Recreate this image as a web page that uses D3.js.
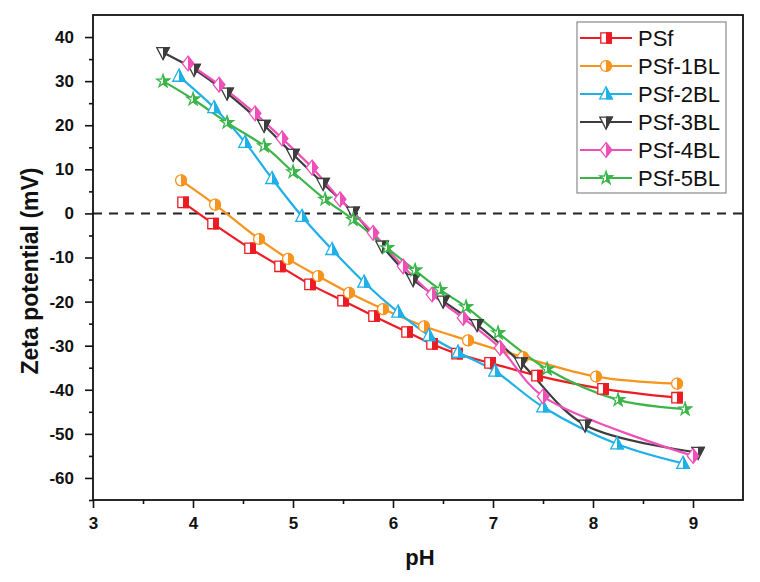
<!DOCTYPE html>
<html><head><meta charset="utf-8">
<script src="https://cdn.jsdelivr.net/npm/d3@7"></script>
<style>body{margin:0;background:#fff}svg{display:block;font-family:"Liberation Sans",Arial,sans-serif}</style>
</head><body><svg id="c" width="760" height="582"></svg>
<script>
const seriesNames = ["PSf","PSf-1BL","PSf-2BL","PSf-3BL","PSf-4BL","PSf-5BL"];
const seriesColors = ["#ec1c24","#f7941d","#1fb0e8","#3d3d3d","#f04fb9","#3bb54a"];
const seriesMarkers = ["square","circle","triangleUp","triangleDown","diamond","star"];
const psfPH = [3.9,4.2,4.57,4.87,5.17,5.5,5.81,6.14,6.39,6.64,6.97,7.44,8.1,8.84];
const psfZ  = [2.5,-2.3,-7.9,-12.0,-16.1,-19.8,-23.3,-26.9,-29.6,-31.8,-33.9,-36.8,-39.8,-41.8];
const bl1PH = [3.88,4.22,4.66,4.95,5.25,5.56,5.9,6.31,6.75,7.3,8.03,8.84];
const bl1Z  = [7.5,2.0,-5.8,-10.3,-14.2,-18.0,-21.7,-25.6,-28.8,-32.6,-37.0,-38.6];
const bl2PH = [3.86,4.21,4.52,4.79,5.09,5.39,5.71,6.05,6.36,6.65,7.02,7.5,8.24,8.9];
const bl2Z  = [31.1,24.0,16.1,7.9,-0.7,-8.2,-15.6,-22.4,-27.7,-31.5,-35.8,-43.9,-52.3,-56.7];
const bl3PH = [3.7,4.01,4.34,4.71,5.0,5.3,5.6,5.89,6.2,6.5,6.84,7.28,7.92,9.05];
const bl3Z  = [36.5,32.7,27.3,20.0,13.4,6.8,0.3,-7.4,-15.0,-19.9,-25.2,-33.9,-48.0,-54.2];
const bl4PH = [3.95,4.26,4.62,4.89,5.19,5.47,5.8,6.1,6.39,6.7,7.07,7.5,9.0];
const bl4Z  = [34.0,29.2,22.7,17.0,10.4,3.2,-4.4,-12.0,-18.4,-23.7,-30.5,-41.5,-55.0];
const bl5PH = [3.7,4.0,4.34,4.71,5.0,5.32,5.6,5.94,6.22,6.47,6.73,7.05,7.54,8.25,8.92];
const bl5Z  = [30.0,25.9,20.6,15.3,9.4,3.2,-1.4,-7.8,-12.9,-17.3,-21.2,-27.1,-35.3,-42.3,-44.4];
const xTicks = [3,4,5,6,7,8,9];
const yTicks = [40,30,20,10,0,-10,-20,-30,-40,-50,-60];
const xLabel = "pH";
const yLabel = "Zeta potential (mV)";

const allPH = [psfPH,bl1PH,bl2PH,bl3PH,bl4PH,bl5PH];
const allZ = [psfZ,bl1Z,bl2Z,bl3Z,bl4Z,bl5Z];
const series = seriesNames.map((n,i)=>({name:n,color:seriesColors[i],marker:seriesMarkers[i],
  pts:allPH[i].map((x,j)=>({x,y:allZ[i][j]}))}));

const svg = d3.select("#c");
const L=93,R=743,T=15,B=500;
const x = d3.scaleLinear().domain([3,9.5]).range([L,R]);
const y = d3.scaleLinear().domain([-65,45]).range([B,T]);

const defs = svg.append("defs");
defs.append("clipPath").attr("id","rh").append("rect").attr("x",0).attr("y",-20).attr("width",20).attr("height",40);
defs.append("clipPath").attr("id","plot").append("rect").attr("x",L).attr("y",T).attr("width",R-L).attr("height",B-T);

function shape(m){
  const s=5.2;
  switch(m){
    case "square": return `M${-s},${-s}H${s}V${s}H${-s}Z`;
    case "circle": return d3.symbol(d3.symbolCircle, Math.PI*s*s*1.1)();
    case "triangleUp": return `M0,${-s*1.35}L${s*1.2},${s*0.95}L${-s*1.2},${s*0.95}Z`;
    case "triangleDown": return `M0,${s*1.35}L${s*1.2},${-s*0.95}L${-s*1.2},${-s*0.95}Z`;
    case "diamond": return `M0,${-s*1.4}L${s*1.1},0L0,${s*1.4}L${-s*1.1},0Z`;
    case "star": return d3.symbol(d3.symbolStar, 48)();
  }
}
function drawMarker(g, m, c){
  const d = shape(m);
  g.append("path").attr("d",d).attr("fill","#fff").attr("stroke",c).attr("stroke-width",1.3);
  g.append("path").attr("d",d).attr("fill",c).attr("stroke",c).attr("stroke-width",1.3).attr("clip-path","url(#rh)");
}

// zero line
svg.append("line").attr("x1",L).attr("x2",R).attr("y1",y(0)).attr("y2",y(0))
  .attr("stroke","#222").attr("stroke-width",2).attr("stroke-dasharray","9,7");

const line = d3.line().x(d=>x(d.x)).y(d=>y(d.y)).curve(d3.curveCatmullRom.alpha(0.5));
const pg = svg.append("g").attr("clip-path","url(#plot)");
series.forEach(s=>{
  pg.append("path").datum(s.pts).attr("d",line).attr("fill","none").attr("stroke",s.color).attr("stroke-width",2.2);
});
series.forEach(s=>{
  s.pts.forEach(p=>{
    const g = pg.append("g").attr("transform",`translate(${x(p.x)},${y(p.y)})`);
    drawMarker(g,s.marker,s.color);
  });
});

// axes
const fmt = d => String(d);
const xAxis = d3.axisBottom(x).tickValues(xTicks).tickSize(8).tickFormat(fmt);
const gx = svg.append("g").attr("transform",`translate(0,${B})`).call(xAxis);
const gxm = svg.append("g").attr("transform",`translate(0,${B})`).call(d3.axisBottom(x).tickValues(d3.range(3.5,9.5,1)).tickSize(4).tickFormat(""));
const yAxis = d3.axisLeft(y).tickValues(yTicks).tickSize(8).tickFormat(fmt);
const gy = svg.append("g").attr("transform",`translate(${L},0)`).call(yAxis);
const gym = svg.append("g").attr("transform",`translate(${L},0)`).call(d3.axisLeft(y).tickValues(d3.range(-65,45,10)).tickSize(4).tickFormat(""));
[gx,gxm,gy,gym].forEach(g=>{
  g.select(".domain").remove();
  g.selectAll("line").attr("stroke","#111").attr("stroke-width",1.6);
});
gx.selectAll("text").attr("font-size",17).attr("font-weight","bold").attr("fill","#111").attr("y",17).attr("dy","0.71em");
gy.selectAll("text").attr("font-size",17).attr("font-weight","bold").attr("fill","#111").attr("x",-19);
svg.append("rect").attr("x",L).attr("y",T).attr("width",R-L).attr("height",B-T)
  .attr("fill","none").attr("stroke","#111").attr("stroke-width",1.8);

svg.append("text").attr("x",(L+R)/2+2).attr("y",565).attr("text-anchor","middle")
  .attr("font-size",22).attr("font-weight","bold").attr("fill","#111").text(xLabel);
svg.append("text").attr("transform",`translate(38,271) rotate(-90)`).attr("text-anchor","middle")
  .attr("font-size",23).attr("font-weight","bold").attr("fill","#111").text(yLabel);

// legend
const lg = svg.append("g");
lg.append("rect").attr("x",577).attr("y",22).attr("width",149).attr("height",171)
  .attr("fill","#fff").attr("stroke","#8a8a8a").attr("stroke-width",1.2);
series.forEach((s,i)=>{
  const yy = 38 + i*28;
  lg.append("line").attr("x1",580).attr("x2",632).attr("y1",yy).attr("y2",yy).attr("stroke",s.color).attr("stroke-width",2.2);
  drawMarker(lg.append("g").attr("transform",`translate(606,${yy})`), s.marker, s.color);
  lg.append("text").attr("x",638).attr("y",yy+8).attr("font-size",22).attr("fill","#111").text(s.name);
});
</script></body></html>
